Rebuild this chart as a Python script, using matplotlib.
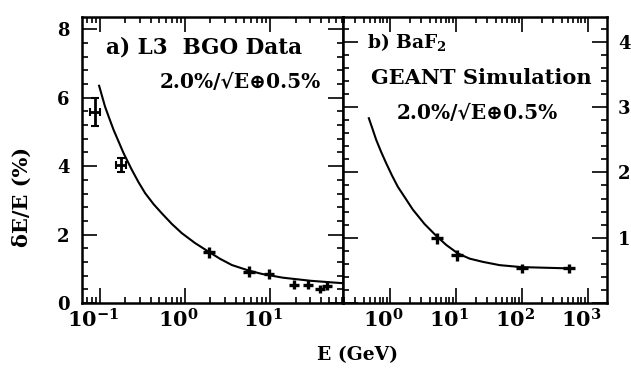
import numpy as np
import matplotlib.pyplot as plt
from matplotlib.ticker import LogLocator, MultipleLocator, FuncFormatter, NullFormatter
from matplotlib.transforms import ScaledTranslation

plt.rcParams['font.family'] = ['DejaVu Serif', 'DejaVu Sans']
plt.rcParams['font.weight'] = 'bold'
plt.rcParams['mathtext.fontset'] = 'dejavuserif'
plt.rcParams['mathtext.default'] = 'bf'

# a) L3 BGO data (read off the picture)
bgo_energy = [0.087, 0.178, 1.93, 5.71, 9.7, 19.0, 28.0, 39.0, 47.0]
bgo_res = [5.59, 4.04, 1.48, 0.92, 0.85, 0.53, 0.53, 0.41, 0.50]
bgo_res_err = [0.41, 0.21, 0.17, 0.15, 0.14, 0.13, 0.13, 0.13, 0.13]
bgo_energy_err_dec = [0.06, 0.06, 0.07, 0.07, 0.06, 0.06, 0.06, 0.06, 0.06]
bgo_fit_energy = [0.098, 0.106, 0.115, 0.129, 0.145, 0.166, 0.190, 0.238, 0.285,
                  0.341, 0.428, 0.536, 0.703, 0.922, 1.32, 1.90, 2.60, 3.57,
                  5.61, 8.05, 14.2, 30.0, 55.0, 72.0]
bgo_fit_res = [6.35, 6.05, 5.74, 5.40, 5.06, 4.72, 4.38, 3.89, 3.53,
               3.21, 2.89, 2.62, 2.31, 2.04, 1.75, 1.50, 1.29, 1.11,
               0.95, 0.85, 0.74, 0.65, 0.60, 0.58]

# b) BaF2 GEANT simulation
baf_energy = [5.2, 10.4, 100.0, 510.0]
baf_res = [0.99, 0.73, 0.53, 0.53]
baf_res_err = [0.08, 0.08, 0.07, 0.07]
baf_energy_err_dec = [0.09, 0.09, 0.09, 0.09]
baf_fit_energy = [0.48, 0.54, 0.62, 0.74, 0.88, 1.08, 1.32, 1.73, 2.23, 3.35,
                  5.03, 7.13, 10.7, 16.1, 25.7, 45.9, 97.6, 528.0, 590.0]
baf_fit_res = [2.83, 2.68, 2.50, 2.31, 2.14, 1.95, 1.78, 1.60, 1.43, 1.21,
               1.03, 0.89, 0.76, 0.68, 0.63, 0.58, 0.55, 0.53, 0.53]


def xerr_from_decades(energy, dec):
    e = np.array(energy)
    d = np.array(dec)
    return np.vstack([e - e * 10 ** (-d), e * 10 ** d - e])


def decade_label(x, pos):
    return r'$\mathbf{10^{%d}}$' % int(round(np.log10(x)))


def style_axis(ax, ymajor, yminor):
    ax.set_xscale('log')
    ax.xaxis.set_major_locator(LogLocator(base=10, numticks=10))
    ax.xaxis.set_minor_locator(LogLocator(base=10, subs=np.arange(2, 10), numticks=10))
    ax.xaxis.set_major_formatter(FuncFormatter(decade_label))
    ax.xaxis.set_minor_formatter(NullFormatter())
    ax.yaxis.set_major_locator(MultipleLocator(ymajor))
    ax.yaxis.set_minor_locator(MultipleLocator(yminor))
    ax.tick_params(which='both', direction='in', top=True, bottom=True, left=True, right=True, width=1.2)
    ax.tick_params(which='major', length=11)
    ax.tick_params(which='minor', length=4)
    ax.tick_params(axis='x', labelsize=15, pad=4)
    ax.tick_params(axis='y', labelsize=13, pad=9)
    for sp in ax.spines.values():
        sp.set_linewidth(1.8)


def draw_points(ax, energy, res, res_err, err_dec, ncap):
    xerr = xerr_from_decades(energy, err_dec)
    # the low-energy points carry visible caps, the rest are plain crosses
    ax.errorbar(energy[:ncap], res[:ncap], yerr=res_err[:ncap], xerr=xerr[:, :ncap],
                fmt='none', ecolor='black', elinewidth=2, capsize=3, capthick=1.5)
    ax.errorbar(energy[ncap:], res[ncap:], yerr=res_err[ncap:], xerr=xerr[:, ncap:],
                fmt='none', ecolor='black', elinewidth=2.4, capsize=0)


fig = plt.figure(figsize=(6.31, 3.81), dpi=100)
ax1 = fig.add_axes([0.130, 0.2047, 0.4136, 0.7507])
ax2 = fig.add_axes([0.5436, 0.2047, 0.4184, 0.7507])

# left panel
ax1.plot(bgo_fit_energy, bgo_fit_res, color='black', linewidth=1.5)
draw_points(ax1, bgo_energy, bgo_res, bgo_res_err, bgo_energy_err_dec, 2)
style_axis(ax1, 2, 0.4)
ax1.set_xlim(0.0617, 72.4)
ax1.set_ylim(0, 8.36)
ax1.text(0.092, 0.892, 'a) L3  BGO Data', transform=ax1.transAxes,
         fontsize=15.5, fontweight='bold', ha='left', va='center')
ax1.text(0.915, 0.773, '2.0%/\u221aE\u22950.5%', transform=ax1.transAxes,
         fontsize=14.5, fontweight='bold', ha='right', va='center')

# right panel
ax2.plot(baf_fit_energy, baf_fit_res, color='black', linewidth=1.5)
draw_points(ax2, baf_energy, baf_res, baf_res_err, baf_energy_err_dec, 0)
style_axis(ax2, 1, 0.2)
ax2.set_xlim(0.195, 1950)
ax2.set_ylim(0, 4.38)
ax2.yaxis.set_major_formatter(FuncFormatter(lambda v, p: '' if v < 0.5 else '%d' % round(v)))
ax2.tick_params(axis='y', labelleft=False, labelright=True, pad=8)
ax2.text(0.091, 0.913, r'b) BaF$_\mathbf{2}$', transform=ax2.transAxes,
         fontsize=13.5, fontweight='bold', ha='left', va='center')
ax2.text(0.943, 0.787, 'GEANT Simulation', transform=ax2.transAxes,
         fontsize=15, fontweight='bold', ha='right', va='center')
ax2.text(0.508, 0.664, '2.0%/\u221aE\u22950.5%', transform=ax2.transAxes,
         fontsize=14.5, fontweight='bold', ha='center', va='center')

# tick labels sit a little left of their ticks in the original
shift = ScaledTranslation(-7 / 100, 0, fig.dpi_scale_trans)
fig.canvas.draw()
for ax in (ax1, ax2):
    for lab in ax.get_xticklabels():
        lab.set_transform(lab.get_transform() + shift)

fig.text(0.035, 0.483, '\u03b4E/E (%)', rotation=90, fontsize=15, fontweight='bold',
         ha='center', va='center')
fig.text(0.566, 0.068, 'E (GeV)', fontsize=13.5, fontweight='bold', ha='center', va='center')

plt.savefig('out.png', dpi=100)
